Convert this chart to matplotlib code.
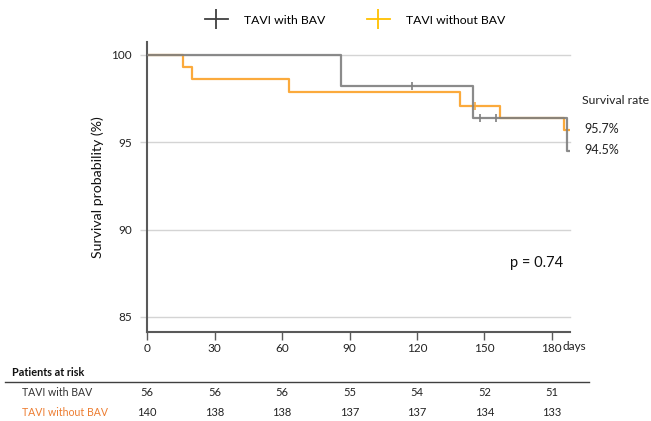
import matplotlib
matplotlib.use("Agg")
import matplotlib.pyplot as plt
from matplotlib.lines import Line2D
import matplotlib.transforms as mtransforms

plt.rcParams['font.family'] = ['Lato', 'DejaVu Sans']

# ---- data ----
bav_times = [0, 86, 145, 187, 188]
bav_surv = [100, 98.2, 96.4, 94.5, 94.5]
bav_cens_t = [118, 148, 155]
bav_cens_s = [98.2, 96.4, 96.4]

nobav_times = [0, 16, 20, 63, 139, 157, 185.5, 188]
nobav_surv = [100, 99.3, 98.6, 97.9, 97.1, 96.4, 95.7, 95.7]
nobav_cens_t = [146]
nobav_cens_s = [97.1]

xticks = [0, 30, 60, 90, 120, 150, 180]
yticks = [85, 90, 95, 100]
risk_bav = [56, 56, 56, 55, 54, 52, 51]
risk_nobav = [140, 138, 138, 137, 137, 134, 133]
series_names = ["TAVI with BAV", "TAVI without BAV"]
final_rates = ["95.7%", "94.5%"]
p_text = "p = 0.74"

C_GRAY = "#7f7f7f"
C_ORANGE = "#fbaa3c"
C_LEG_GRAY = "#404040"
C_LEG_ORANGE = "#ffc000"
C_TABLE_ORANGE = "#ed7d31"

fig = plt.figure(figsize=(6.51, 4.21), dpi=100)
ax = fig.add_axes([147.3/651, 89/421, (569.7-147.3)/651, (379-89)/421])
ax.set_xlim(0, 188)
ax.set_ylim(84.14, 100.74)

for y in yticks:
    ax.axhline(y, color="#d4d4d4", lw=1.0, zorder=0, clip_on=False)

ax.step(nobav_times, nobav_surv, where="post", color=C_ORANGE, lw=1.6, zorder=2)
ax.plot(nobav_cens_t, nobav_cens_s, ls="none", marker="|", ms=6, mew=1.2, color=C_ORANGE, zorder=2)
ax.step(bav_times, bav_surv, where="post", color=C_GRAY, lw=1.6, alpha=0.9, zorder=3)
ax.plot(bav_cens_t, bav_cens_s, ls="none", marker="|", ms=6, mew=1.2, color=C_GRAY, zorder=3)

for s in ["top", "right"]:
    ax.spines[s].set_visible(False)
for s in ["left", "bottom"]:
    ax.spines[s].set_color("#595959")
    ax.spines[s].set_linewidth(1.5)

ax.set_xticks(xticks)
ax.set_xticklabels([str(t) for t in xticks])
ax.set_yticks(yticks)
ax.set_yticklabels([str(t) for t in yticks])
ax.tick_params(axis="x", direction="out", length=6, width=1.0, color="#595959",
               labelsize=8.5, labelcolor="#222222", pad=2)
ax.tick_params(axis="y", direction="out", length=5, width=1.0, color="#d4d4d4",
               labelsize=8.5, labelcolor="#222222", pad=6)
trans_xd = mtransforms.blended_transform_factory(ax.transData, fig.transFigure)
ax.text(185, 1 - 346/421, "days", transform=trans_xd, fontsize=8.5, color="#222222",
        ha="left", va="center", clip_on=False)

ax.set_ylabel("Survival probability (%)", fontsize=10.2, color="#111111", labelpad=5)

# right annotations
fig.text(582/651, 1 - 101/421, "Survival rate", fontsize=8.8, ha="left", va="center", color="#222222")
fig.text(584/651, 1 - 129/421, final_rates[0], fontsize=9, ha="left", va="center", color="#222222")
fig.text(584/651, 1 - 150/421, final_rates[1], fontsize=9, ha="left", va="center", color="#222222")
fig.text(537/651, 1 - 263/421, p_text, fontsize=10.5, ha="center", va="center", color="#111111")

# legend
handles = [Line2D([0], [0], color=C_LEG_GRAY, lw=1.3, marker="|", ms=14, mew=1.3),
           Line2D([0], [0], color=C_LEG_ORANGE, lw=1.3, marker="|", ms=14, mew=1.3)]
fig.legend(handles, series_names, loc="center", bbox_to_anchor=(355/651, 1 - 20/421),
           ncol=2, frameon=False, fontsize=8.8, handlelength=1.9, columnspacing=3.4,
           handletextpad=1.3)

# risk table
fig.text(12/651, 1 - 373/421, "Patients at risk", fontsize=7.8, fontweight="bold",
         ha="left", va="center", color="#111111")
fig.add_artist(Line2D([5/651, 589/651], [1 - 382/421, 1 - 382/421], color="#404040", lw=1.0))
fig.text(22/651, 1 - 392/421, series_names[0], fontsize=7.6, ha="left", va="center", color="#333333")
fig.text(22/651, 1 - 412/421, series_names[1], fontsize=7.6, ha="left", va="center", color=C_TABLE_ORANGE)
for t, a, b in zip(xticks, risk_bav, risk_nobav):
    ax.text(t, 1 - 392/421, str(a), transform=trans_xd, fontsize=8, ha="center", va="center",
            color="#222222", clip_on=False)
    ax.text(t, 1 - 412/421, str(b), transform=trans_xd, fontsize=8, ha="center", va="center",
            color="#222222", clip_on=False)

fig.savefig("out.png", dpi=100)
